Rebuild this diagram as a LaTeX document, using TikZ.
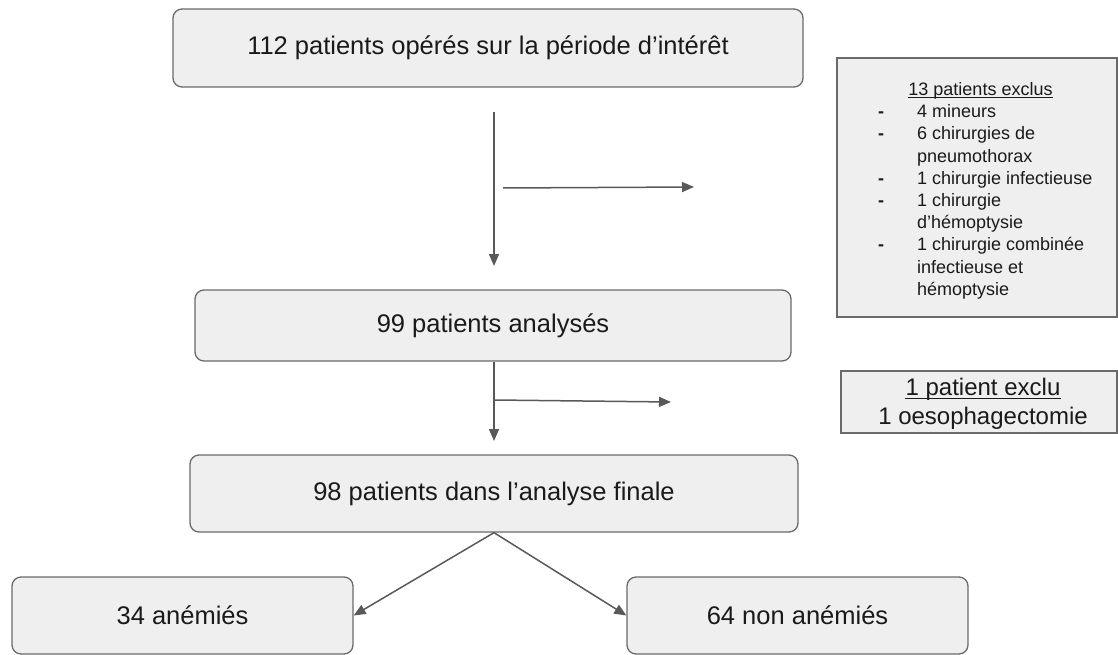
\documentclass[tikz,border=0pt]{standalone}
\usepackage{fontspec}
\setmainfont{Liberation Sans}
\usetikzlibrary{arrows.meta}
\definecolor{boxfill}{HTML}{EFEFEF}
\definecolor{boxline}{HTML}{6A6A6A}
\definecolor{arr}{HTML}{595959}
\definecolor{txt}{HTML}{1A1A1A}
\begin{document}
\begin{tikzpicture}[x=1pt,y=-1pt,
  box/.style={draw=boxline, line width=1.3pt, fill=boxfill, rounded corners=9pt, text=txt,
    font=\fontsize{25.5}{30}\selectfont, inner sep=0pt},
  exbox/.style={draw=boxline, line width=1.3pt, fill=boxfill, inner sep=0pt},
  exline/.style={text=txt, font=\fontsize{18}{22}\selectfont, inner sep=0pt},
  uline/.style={draw=txt, line width=1.3pt},
  arrow/.style={draw=arr, line width=1.5pt, -{Triangle[length=12pt,width=10pt]}}]
\useasboundingbox (0,0) rectangle (1118,655);

\node[box, minimum width=630pt, minimum height=78pt] (b1) at (488,48) {112 patients opérés sur la période d’intérêt};
\node[box, minimum width=596pt, minimum height=71pt] (b2) at (493,325.5) {99 patients analysés};
\node[box, minimum width=608pt, minimum height=77pt] (b3) at (494,493.5) {98 patients dans l’analyse finale};
\node[box, minimum width=341pt, minimum height=77pt] (b4) at (182.5,615.5) {34 anémiés};
\node[box, minimum width=341pt, minimum height=77pt] (b5) at (797.5,615.5) {64 non anémiés};

\node[exbox, minimum width=280pt, minimum height=259pt] (e1) at (977,187.5) {};
\node[exline, anchor=base] (e1h) at (980.5,95.5) {13 patients exclus};
\draw[uline] ([yshift=-2.2pt]e1h.base west) -- ([yshift=-2.2pt]e1h.base east);
\foreach \i/\d/\t in {1/-/4 mineurs, 2/-/6 chirurgies de, 3//pneumothorax, 4/-/1 chirurgie infectieuse,
  5/-/1 chirurgie, 6//d’hémoptysie, 7/-/1 chirurgie combinée, 8//infectieuse et, 9//hémoptysie}{
  \node[exline, anchor=base west] (e1t\i) at (917,95.5+22.2*\i) {\t};
  \node[exline, anchor=base, font=\fontsize{18}{22}\selectfont\bfseries] (e1d\i) at (881,95.5+22.2*\i) {\d};
}

\node[exbox, minimum width=276pt, minimum height=62pt] (e2) at (979,402) {};
\node[exline, font=\fontsize{24}{28}\selectfont, anchor=base] (e2a) at (983,395.5) {1 patient exclu};
\draw[uline] ([yshift=-3pt]e2a.base west) -- ([yshift=-3pt]e2a.base east);
\node[exline, font=\fontsize{24}{28}\selectfont, anchor=base] (e2b) at (983,424) {1 oesophagectomie};

\coordinate (a1s) at (494,112);
\coordinate (a1e) at (494,266);
\coordinate (h1s) at (503,188);
\coordinate (h1e) at (694,187);
\coordinate (a2s) at (494,362);
\coordinate (a2e) at (494,441);
\coordinate (h2s) at (495,400);
\coordinate (h2e) at (671,402);

\draw[arrow] (a1s) -- (a1e);
\draw[arrow] (h1s) -- (h1e);
\draw[arrow] (a2s) -- (a2e);
\draw[arrow] (h2s) -- (h2e);
\draw[arrow] (b3.south) -- (b4.east);
\draw[arrow] (b3.south) -- (b5.west);
\end{tikzpicture}
\end{document}
